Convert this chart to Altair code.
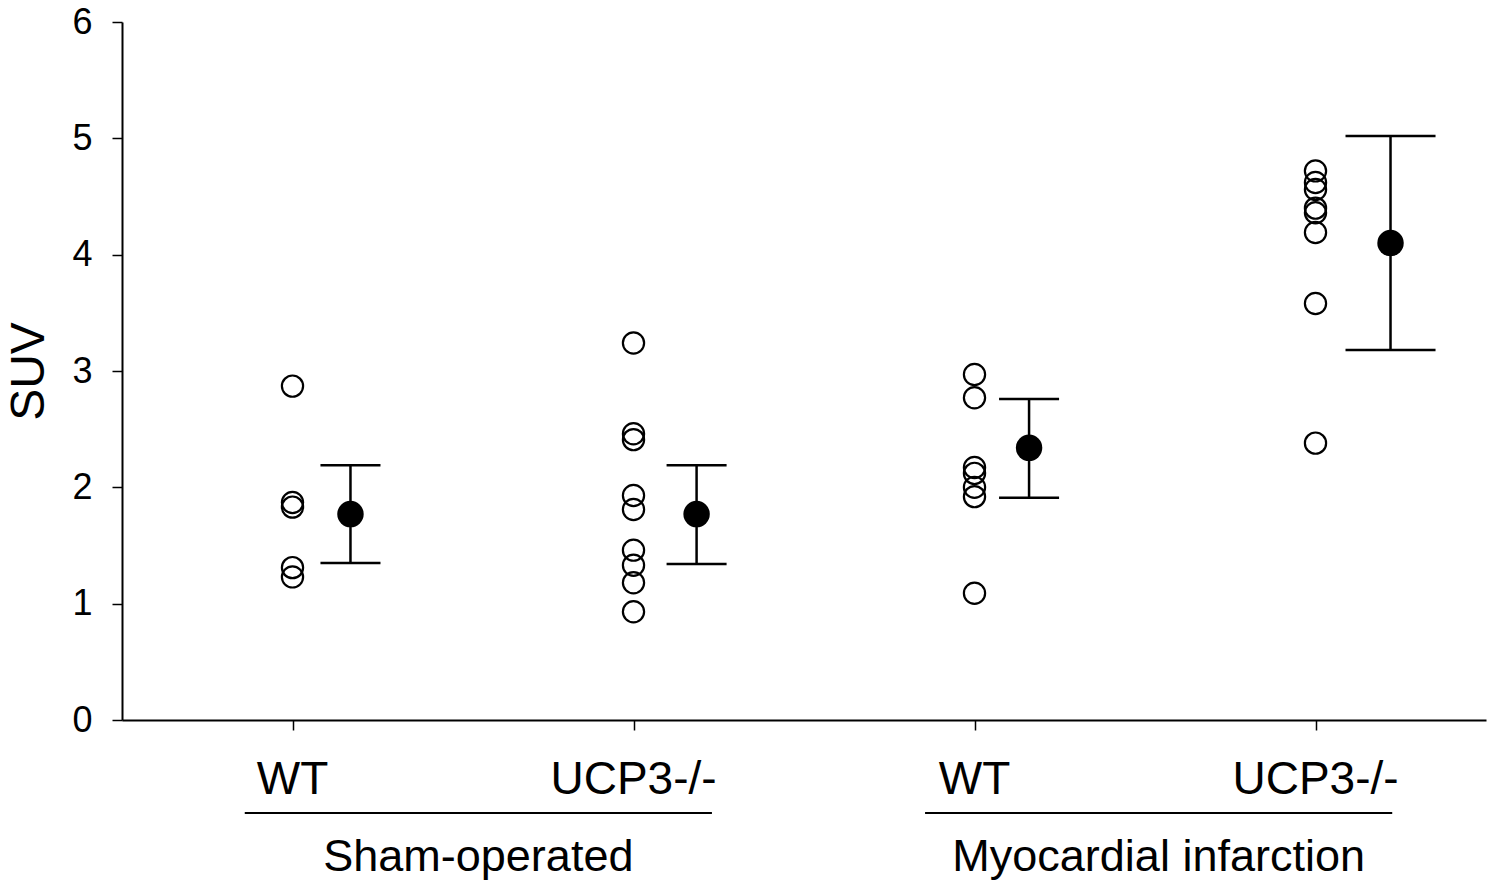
import altair as alt
import pandas as pd

# ---- data ----
categories = ["WT", "UCP3-/-", "WT", "UCP3-/-"]
cat_pos = [1, 3, 5, 7]
sham_wt = [2.87, 1.87, 1.83, 1.31, 1.23]
sham_ucp3 = [3.24, 2.46, 2.41, 1.93, 1.81, 1.46, 1.33, 1.18, 0.93]
mi_wt = [2.97, 2.77, 2.17, 2.12, 2.00, 1.92, 1.09]
mi_ucp3 = [4.72, 4.62, 4.56, 4.40, 4.36, 4.19, 3.58, 2.38]
means = [1.77, 1.77, 2.34, 4.10]
err_hi = [2.19, 2.19, 2.76, 5.02]
err_lo = [1.35, 1.34, 1.91, 3.18]
mean_pos = [1.34, 3.37, 5.32, 7.44]
cap_half = [0.176, 0.176, 0.176, 0.264]
group_names = ["Sham-operated", "Myocardial infarction"]
group_start = [0.72, 4.71]
group_end = [3.46, 7.45]

FONT = "Liberation Sans"
W, H = 1364, 698

pts = []
for pos, vals in zip(cat_pos, [sham_wt, sham_ucp3, mi_wt, mi_ucp3]):
    for v in vals:
        pts.append({"x": pos, "y": v})
pts = pd.DataFrame(pts)

summ = pd.DataFrame({
    "x": mean_pos, "m": means, "hi": err_hi, "lo": err_lo,
    "cl": [m - c for m, c in zip(mean_pos, cap_half)],
    "cr": [m + c for m, c in zip(mean_pos, cap_half)],
})
cats = pd.DataFrame({"x": cat_pos, "label": categories})
grps = pd.DataFrame({"x1": group_start, "x2": group_end, "name": group_names,
                     "xc": [(a + b) / 2 for a, b in zip(group_start, group_end)]})

xs = alt.Scale(domain=[0, 8], nice=False, zero=False)
ys = alt.Scale(domain=[0, 6], nice=False)

xaxis = alt.Axis(values=cat_pos, labels=False, title=None, grid=False,
                 tickSize=10, tickColor="black", tickWidth=1.5,
                 domainColor="black", domainWidth=2)
yaxis = alt.Axis(values=[0, 1, 2, 3, 4, 5, 6], format="d", grid=False, tickSize=10,
                 tickColor="black", tickWidth=1.5, domainColor="black",
                 domainWidth=2, labelFont=FONT, labelFontSize=36,
                 labelColor="black", labelPadding=20, title="SUV",
                 titleFont=FONT, titleFontSize=48, titleFontWeight="normal",
                 titleColor="black", titlePadding=18)

points = alt.Chart(pts).mark_point(shape="circle", filled=False, size=450,
                                   stroke="black", strokeWidth=2.2, opacity=1).encode(
    x=alt.X("x:Q", scale=xs, axis=xaxis),
    y=alt.Y("y:Q", scale=ys, axis=yaxis),
)

base = alt.Chart(summ)
bars = base.mark_rule(color="black", strokeWidth=2.5).encode(
    x=alt.X("x:Q", scale=xs), y=alt.Y("lo:Q", scale=ys), y2="hi:Q")
cap_hi = base.mark_rule(color="black", strokeWidth=2.5).encode(
    x=alt.X("cl:Q", scale=xs), x2="cr:Q", y=alt.Y("hi:Q", scale=ys))
cap_lo = base.mark_rule(color="black", strokeWidth=2.5).encode(
    x=alt.X("cl:Q", scale=xs), x2="cr:Q", y=alt.Y("lo:Q", scale=ys))
mean_pts = base.mark_point(shape="circle", filled=True, size=700,
                           color="black", opacity=1).encode(
    x=alt.X("x:Q", scale=xs), y=alt.Y("m:Q", scale=ys))

cat_text = alt.Chart(cats).mark_text(font=FONT, fontSize=46, color="black",
                                     baseline="middle", align="center").encode(
    x=alt.X("x:Q", scale=xs), y=alt.value(758), text="label:N")

brackets = alt.Chart(grps).mark_rule(color="black", strokeWidth=2).encode(
    x=alt.X("x1:Q", scale=xs), x2="x2:Q", y=alt.value(791))
grp_text = alt.Chart(grps).mark_text(font=FONT, fontSize=45, color="black",
                                     baseline="middle", align="center").encode(
    x=alt.X("xc:Q", scale=xs), y=alt.value(835), text="name:N")

chart = alt.layer(points, bars, cap_hi, cap_lo, mean_pts, cat_text, brackets,
                  grp_text).properties(
    width=W, height=H,
    autosize=alt.AutoSizeParams(type="none"),
    padding={"left": 122, "top": 22, "right": 11, "bottom": 165},
    background="white",
).configure_view(stroke=None)

chart.save("out.html", embed_options={"renderer": "svg", "actions": False})
